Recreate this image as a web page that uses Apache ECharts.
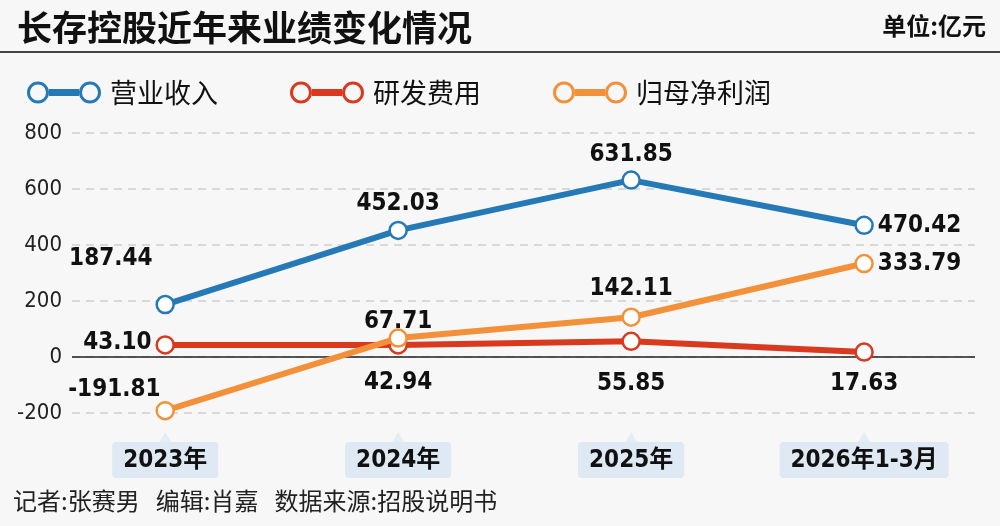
<!DOCTYPE html>
<html>
<head>
<meta charset="utf-8">
<title>长存控股近年来业绩变化情况</title>
<script src="https://cdn.jsdelivr.net/npm/echarts@6/dist/echarts.min.js"></script>
<style>
    html, body { margin: 0; padding: 0; background: #f7f7f7; }
    #chart1 { width: 1000px; height: 526px; }
</style>
</head>
<body>
<div id="chart1"></div>
<script>
    //---------------------------------------------数据--------------------------------------
    var categories = ['2023年', '2024年', '2025年', '2026年1-3月'];
    var seriesNames = ['营业收入', '研发费用', '归母净利润'];
    var revenue = [187.44, 452.03, 631.85, 470.42];
    var rdCost = [43.10, 42.94, 55.85, 17.63];
    var netProfit = [-191.81, 67.71, 142.11, 333.79];
    var yTicks = [-200, 0, 200, 400, 600, 800];

    var numFont = '"DejaVu Sans Condensed", "Liberation Sans Narrow", "Noto Sans CJK SC", sans-serif';
    var cjkFont = '"Noto Sans CJK SC", sans-serif';
    var colorList = ['#2479b6', '#d8391f', '#f2913a'];

    // 图例图标: 两个圆环 + 中间粗线
    var legendIcon = 'path://M0,11 A11,11 0 1,1 22,11 A11,11 0 1,1 0,11 Z M3,11 A8,8 0 1,0 19,11 A8,8 0 1,0 3,11 Z' +
        ' M22,7.5 L52,7.5 L52,14.5 L22,14.5 Z' +
        ' M52,11 A11,11 0 1,1 74,11 A11,11 0 1,1 52,11 Z M55,11 A8,8 0 1,0 71,11 A8,8 0 1,0 55,11 Z';

    function pairs(arr) {
        return arr.map(function (v, i) { return [i, v]; });
    }

    function lbl(pos, dist, off) {
        return {
            show: true,
            position: pos,
            distance: dist,
            offset: off || [0, 0],
            color: '#111',
            fontFamily: numFont,
            fontWeight: 'bold',
            fontSize: 24,
            formatter: function (p) { return p.value[1].toFixed(2); }
        };
    }

    // 每个点的标签位置
    var labelSet = [
        [lbl('left', 3, [0, -46]), lbl('top', 5), lbl('top', 4), lbl('right', 4)],
        [lbl('left', 4, [0, -2]), lbl('bottom', 16), lbl('bottom', 21), lbl('bottom', 10)],
        [lbl('left', 3, [8, -21]), lbl('top', 0, [0, 5]), lbl('top', 7), lbl('right', 4)]
    ];

    function makeLine(idx, values) {
        return {
            name: seriesNames[idx],
            type: 'line',
            z: 3 + idx,
            data: pairs(values).map(function (d, i) {
                return { value: d, label: labelSet[idx][i] };
            }),
            symbol: 'circle',
            symbolSize: 17,
            lineStyle: { width: 6, color: colorList[idx] },
            itemStyle: { color: '#fff', borderColor: colorList[idx], borderWidth: 2.5 }
        };
    }

    var series = [makeLine(0, revenue), makeLine(1, rdCost), makeLine(2, netProfit)];

    // 0 轴实线
    series[0].markLine = {
        silent: true,
        symbol: 'none',
        z: 1,
        label: { show: false },
        lineStyle: { color: '#222', width: 1.5, type: 'solid' },
        data: [{ yAxis: 0 }]
    };

    // 年份标签上的小三角
    series.push({
        type: 'scatter',
        clip: false,
        silent: true,
        symbol: 'triangle',
        symbolSize: [12, 10],
        itemStyle: { color: '#dfe9f3' },
        data: categories.map(function (c, i) { return [i, -287]; })
    });

    var option1 = {
        backgroundColor: '#f7f7f7',
        animation: false,
        title: {
            text: '长存控股近年来业绩变化情况',
            left: 12,
            top: 5,
            textStyle: { color: '#111', fontFamily: cjkFont, fontWeight: 'bold', fontSize: 35 }
        },
        legend: {
            data: seriesNames.map(function (n, i) {
                return { name: n, itemStyle: { color: colorList[i], borderWidth: 0 } };
            }),
            left: 22,
            top: 74,
            icon: legendIcon,
            itemWidth: 74,
            itemHeight: 22,
            itemGap: 72,
            textStyle: { color: '#111', fontFamily: cjkFont, fontSize: 27, padding: [0, 0, 0, 4] }
        },
        grid: { left: 72, right: 25, top: 133, bottom: 113 },
        xAxis: {
            type: 'value',
            min: -0.4,
            max: 3.476,
            axisLine: { show: false },
            axisTick: { show: false },
            splitLine: { show: false },
            axisLabel: {
                customValues: [0, 1, 2, 3],
                margin: 29,
                formatter: function (v) { return categories[v]; },
                color: '#111',
                fontFamily: numFont,
                fontWeight: 'bold',
                fontSize: 24,
                backgroundColor: '#dfe9f3',
                borderRadius: 4,
                padding: [7, 11, 5, 11]
            }
        },
        yAxis: {
            type: 'value',
            min: yTicks[0],
            max: yTicks[yTicks.length - 1],
            interval: 200,
            axisLine: { show: false },
            axisTick: { show: false },
            axisLabel: { margin: 10, color: '#222', fontFamily: numFont, fontSize: 22 },
            splitLine: { lineStyle: { color: '#cfcfcf', type: [8, 6], width: 1.5 } }
        },
        graphic: [
            { type: 'line', shape: { x1: 0, y1: 52, x2: 1000, y2: 52 }, style: { stroke: '#444', lineWidth: 2 } },
            {
                type: 'text', right: 14, top: 14,
                style: { text: '单位:亿元', fill: '#111', font: 'bold 24px "Noto Sans CJK SC", sans-serif' }
            },
            {
                type: 'text', left: 13, top: 489,
                style: { text: '记者:张赛男   编辑:肖嘉   数据来源:招股说明书', fill: '#222', font: '24px "Noto Sans CJK SC", sans-serif' }
            }
        ],
        series: series
    };

    var chart1 = echarts.init(document.getElementById('chart1'));
    chart1.setOption(option1);
</script>
</body>
</html>
